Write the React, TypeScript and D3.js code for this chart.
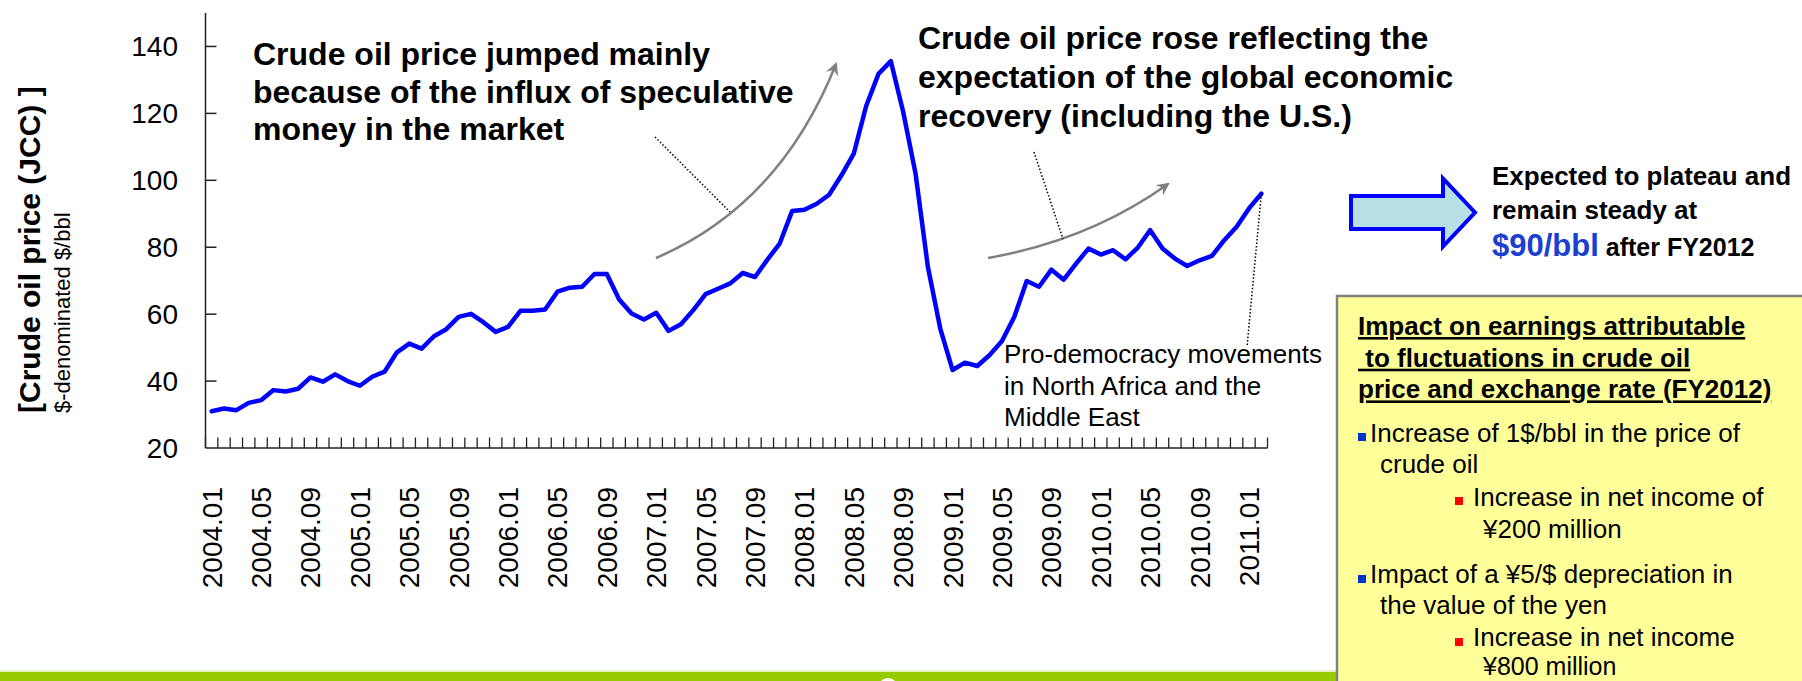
import * as d3 from 'd3';

// JCC crude oil price, monthly, 2004.01 – 2011.02 ($/bbl)
const prices2004 = [31.0, 31.8, 31.3, 33.5, 34.3, 37.3, 36.9, 37.7, 41.1, 39.8, 42.0, 40.0];
const prices2005 = [38.6, 41.3, 42.8, 48.6, 51.2, 49.7, 53.4, 55.5, 59.2, 60.1, 57.6, 54.7];
const prices2006 = [56.2, 61.0, 61.0, 61.4, 66.7, 67.9, 68.2, 72.0, 72.0, 64.4, 60.2, 58.4];
const prices2007 = [60.4, 55.0, 57.0, 61.2, 66.0, 67.6, 69.2, 72.3, 71.1, 76.3, 81.1, 90.8];
const prices2008 = [91.2, 93.0, 95.7, 101.5, 108.0, 122.2, 131.8, 135.6, 120.4, 102.0, 74.1, 55.7];
const prices2009 = [43.3, 45.5, 44.5, 47.8, 52.0, 59.2, 69.9, 68.2, 73.3, 70.3, 75.1, 79.6];
const prices2010 = [77.8, 79.1, 76.4, 79.9, 85.1, 79.6, 76.6, 74.4, 76.1, 77.4, 82.1, 86.1];
const prices2011 = [91.6, 96.0];

const prices = [
  ...prices2004, ...prices2005, ...prices2006, ...prices2007,
  ...prices2008, ...prices2009, ...prices2010, ...prices2011,
];

const months = prices.map((_, i) =>
  `${2004 + Math.floor(i / 12)}.${String((i % 12) + 1).padStart(2, '0')}`);

const yTicks = [20, 40, 60, 80, 100, 120, 140];

const noteSpeculation = [
  'Crude oil price jumped mainly',
  'because of the influx of speculative',
  'money in the market',
];
const noteRecovery = [
  'Crude oil price rose reflecting the',
  'expectation of the global economic',
  'recovery (including the U.S.)',
];
const noteDemocracy = ['Pro-democracy movements', 'in North Africa and the', 'Middle East'];
const boxTitle = ['Impact on earnings attributable', ' to fluctuations in crude oil', 'price and exchange rate (FY2012)'];

const FONT = '"Liberation Sans", Arial, sans-serif';

export default function App() {
  const W = 1802, H = 681;
  const x = d3.scaleBand<string>().domain(months).range([205.5, 1267.5]);
  const bw = x.bandwidth();
  const y = d3.scaleLinear().domain([20, 150]).range([448, 13]);
  const cx = (i: number) => (x(months[i]) as number) + bw / 2;

  const line = d3.line<number>()
    .x((_, i) => cx(i))
    .y(d => y(d));

  const boundaries = d3.range(months.length + 1).map(i => x.range()[0] + i * bw);
  const last = prices.length - 1;

  const arrow1 = d3.path();
  arrow1.moveTo(656, 258);
  arrow1.quadraticCurveTo(780, 205, 836, 64);
  const arrow2 = d3.path();
  arrow2.moveTo(988, 258);
  arrow2.quadraticCurveTo(1090, 240, 1168, 184);

  return (
    <svg width={W} height={H} style={{ position: 'absolute', left: 0, top: 0, background: '#fff' }}
      fontFamily={FONT}>
      <defs>
        <marker id="gh" viewBox="0 0 12 12" refX="10" refY="6" markerWidth="13" markerHeight="13"
          markerUnits="userSpaceOnUse" orient="auto">
          <path d="M0,0 L12,6 L0,12 L4,6 z" fill="#808080" />
        </marker>
      </defs>
      <rect x={0} y={0} width={W} height={H} fill="#fff" />

      {/* y axis */}
      <line x1={205.5} x2={205.5} y1={y(150)} y2={y(20)} stroke="#222" strokeWidth={1.5} />
      {yTicks.map(t => (
        <g key={t}>
          {t > 20 && <line x1={205.5} x2={216.5} y1={y(t)} y2={y(t)} stroke="#222" strokeWidth={1.5} />}
          <text x={178} y={y(t) + 10} textAnchor="end" fontSize={28} fill="#000">{t}</text>
        </g>
      ))}

      {/* x axis */}
      <line x1={x.range()[0]} x2={x.range()[1]} y1={y(20)} y2={y(20)} stroke="#222" strokeWidth={1.5} />
      {boundaries.map((b, i) => (
        <line key={i} x1={b} x2={b} y1={y(20) - 10.5} y2={y(20)} stroke="#222" strokeWidth={1.3} />
      ))}
      {months.map((m, i) => i % 4 === 0 && (
        <text key={m} transform={`translate(${cx(i) + 10},487) rotate(-90)`} textAnchor="end"
          fontSize={28} fill="#000">{m}</text>
      ))}

      {/* axis titles */}
      <text transform="translate(40,413) rotate(-90)" fontSize={30} fontWeight="bold" fill="#000">
        [Crude oil price (JCC) ]
      </text>
      <text transform="translate(70,413) rotate(-90)" fontSize={22} fill="#000">$-denominated $/bbl</text>

      {/* price line */}
      <path d={line(prices) ?? ''} fill="none" stroke="#0000ff" strokeWidth={4.5}
        strokeLinejoin="round" strokeLinecap="round" />

      {/* annotations */}
      <path d={arrow1.toString()} fill="none" stroke="#808080" strokeWidth={2.5} markerEnd="url(#gh)" />
      <path d={arrow2.toString()} fill="none" stroke="#808080" strokeWidth={2.5} markerEnd="url(#gh)" />
      <line x1={655} y1={137} x2={730} y2={212} stroke="#000" strokeWidth={1.5} strokeDasharray="1.5 2" />
      <line x1={1034} y1={152} x2={1063} y2={239} stroke="#000" strokeWidth={1.5} strokeDasharray="1.5 2" />
      <line x1={cx(last)} y1={y(prices[last])} x2={1247} y2={347} stroke="#000" strokeWidth={1.5}
        strokeDasharray="1.5 2" />

      {noteSpeculation.map((s, i) => (
        <text key={s} x={253} y={65 + i * 37.5} fontSize={32} fontWeight="bold" fill="#000">{s}</text>
      ))}
      {noteRecovery.map((s, i) => (
        <text key={s} x={918} y={49 + i * 39} fontSize={32} fontWeight="bold" fill="#000">{s}</text>
      ))}
      {noteDemocracy.map((s, i) => (
        <text key={s} x={1004} y={363 + i * 31.7} fontSize={26} fill="#000">{s}</text>
      ))}

      {/* outlook arrow */}
      <path d="M1351,196 L1443,196 L1443,178.5 L1475,212.5 L1443,246.5 L1443,229 L1351,229 Z"
        fill="#b7e0e6" stroke="#0000ff" strokeWidth={4} strokeLinejoin="miter" />
      <text x={1492} y={185} fontSize={26} fontWeight="bold" fill="#000">Expected to plateau and</text>
      <text x={1492} y={219} fontSize={26} fontWeight="bold" fill="#000">remain steady at</text>
      <text x={1492} y={256} fontWeight="bold" fill="#000">
        <tspan fontSize={31} fill="#1a3fd1">$90/bbl</tspan>
        <tspan fontSize={25}> after FY2012</tspan>
      </text>

      {/* bottom band */}
      <rect x={0} y={670} width={1337} height={2} fill="#e3efc4" />
      <rect x={0} y={672} width={1337} height={9} fill="#99cc00" />
      <circle cx={888} cy={688} r={10} fill="#fff" />

      {/* impact box */}
      <rect x={1337} y={296} width={500} height={420} fill="#ffff99" stroke="#808080" strokeWidth={2.5} />
      {boxTitle.map((s, i) => (
        <text key={s} x={1358} y={335 + i * 31.7} fontSize={26} fontWeight="bold" fill="#000"
          textDecoration="underline" style={{ whiteSpace: 'pre' }}>{s}</text>
      ))}
      <rect x={1358} y={433} width={8} height={8} fill="#0033cc" />
      <text x={1370} y={442} fontSize={26} fill="#000">Increase of 1$/bbl in the price of</text>
      <text x={1380} y={473} fontSize={26} fill="#000">crude oil</text>
      <rect x={1455} y={497} width={8} height={8} fill="#ff0000" />
      <text x={1473} y={506} fontSize={26} fill="#000">Increase in net income of</text>
      <text x={1483} y={538} fontSize={26} fill="#000">¥200 million</text>
      <rect x={1358} y={575} width={8} height={8} fill="#0033cc" />
      <text x={1370} y={583} fontSize={26} fill="#000">Impact of a ¥5/$ depreciation in</text>
      <text x={1380} y={614} fontSize={26} fill="#000">the value of the yen</text>
      <rect x={1455} y={638} width={8} height={8} fill="#ff0000" />
      <text x={1473} y={646} fontSize={26} fill="#000">Increase in net income</text>
      <text x={1483} y={675} fontSize={25} fill="#000">¥800 million</text>
    </svg>
  );
}
